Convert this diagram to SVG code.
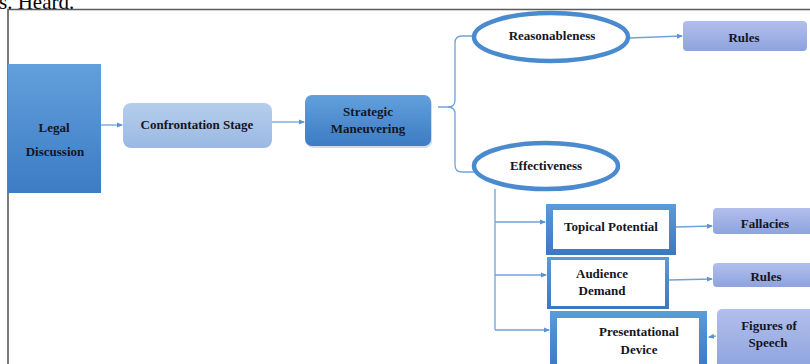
<svg xmlns="http://www.w3.org/2000/svg" width="810" height="364" viewBox="0 0 810 364">
<defs>
<linearGradient id="gDark" x1="0" y1="0" x2="0" y2="1"><stop offset="0" stop-color="#62a0dc"/><stop offset="1" stop-color="#3d7bc4"/></linearGradient>
<linearGradient id="gLight" x1="0" y1="0" x2="0" y2="1"><stop offset="0" stop-color="#b6cdec"/><stop offset="1" stop-color="#9ab9e3"/></linearGradient>
<linearGradient id="gPeri" x1="0" y1="0" x2="0" y2="1"><stop offset="0" stop-color="#b2bfec"/><stop offset="1" stop-color="#8ea3dd"/></linearGradient>
<linearGradient id="gBorder" x1="0" y1="0" x2="0" y2="1"><stop offset="0" stop-color="#5c9ad8"/><stop offset="1" stop-color="#3b78c2"/></linearGradient>
<marker id="ah" markerWidth="6" markerHeight="6" refX="5" refY="3" orient="auto" markerUnits="userSpaceOnUse"><path d="M0,0.5 L6,3 L0,5.5 z" fill="#5a93d2"/></marker>
<style>
text{font-family:"Liberation Serif","Times New Roman",serif;font-weight:bold;font-size:13px;fill:#15151f;text-anchor:middle;dominant-baseline:central}
.c{fill:none;stroke:#6fa2da;stroke-width:1.3}
.b{fill:none;stroke:#6fa2da;stroke-width:1.3}
.ell{fill:#fff;stroke:#4a8bd0;stroke-width:4.5}
</style>
</defs>
<rect width="810" height="364" fill="#fff"/>
<text x="-1" y="9" style="font-weight:normal;font-size:21px;text-anchor:start;dominant-baseline:auto;fill:#000">s. Heard.</text>
<path d="M8,364 V9.5 H810" fill="none" stroke="#5a5a5a" stroke-width="1.6"/>

<g id="connectors">
<line class="c" x1="101" y1="125" x2="122" y2="125" marker-end="url(#ah)"/>
<line class="c" x1="272" y1="122" x2="304" y2="122" marker-end="url(#ah)"/>
<path class="b" d="M438,107 H448 Q455,107 455,100 V43 Q455,36 462,36 H474"/>
<path class="b" d="M448,107 Q455,107 455,114 V165 Q455,172 462,172 H474"/>
<line class="c" x1="629" y1="38" x2="682" y2="36" marker-end="url(#ah)"/>
<path class="c" d="M495,189 V330"/>
<line class="c" x1="495" y1="222" x2="545" y2="222" marker-end="url(#ah)"/>
<line class="c" x1="495" y1="275" x2="546" y2="275" marker-end="url(#ah)"/>
<line class="c" x1="495" y1="330" x2="549" y2="330" marker-end="url(#ah)"/>
<line class="c" x1="676" y1="227" x2="712" y2="226" marker-end="url(#ah)"/>
<line class="c" x1="669" y1="280" x2="712" y2="279" marker-end="url(#ah)"/>
<line class="c" x1="716" y1="336" x2="709" y2="337" marker-end="url(#ah)"/>
</g>

<g id="legal-discussion">
<rect x="8" y="64" width="93" height="129" fill="url(#gDark)"/>
<text x="54" y="127">Legal</text>
<text x="55" y="151">Discussion</text>
</g>

<g id="confrontation-stage">
<rect x="123" y="103" width="149" height="45" rx="8" fill="url(#gLight)"/>
<text x="197" y="124">Confrontation Stage</text>
</g>

<g id="strategic-maneuvering">
<rect x="306" y="97" width="126" height="51" rx="7" fill="#9fb9d8" opacity="0.5"/>
<rect x="305" y="95" width="126" height="51" rx="7" fill="url(#gDark)"/>
<text x="368" y="111">Strategic</text>
<text x="368" y="128">Maneuvering</text>
</g>

<g id="reasonableness">
<ellipse class="ell" cx="551" cy="37" rx="77" ry="24"/>
<text x="552" y="35">Reasonableness</text>
</g>

<g id="rules-1">
<rect x="683" y="21" width="124" height="30" rx="4" fill="url(#gPeri)"/>
<text x="744" y="37">Rules</text>
</g>

<g id="effectiveness">
<ellipse class="ell" cx="546" cy="166" rx="72" ry="23"/>
<text x="546" y="165">Effectiveness</text>
</g>

<g id="topical-potential">
<rect x="546" y="204" width="130" height="51" fill="url(#gBorder)"/>
<rect x="553" y="210" width="116" height="39" fill="#fff"/>
<text x="611" y="226">Topical Potential</text>
</g>

<g id="audience-demand">
<rect x="547" y="257" width="122" height="52" fill="url(#gBorder)"/>
<rect x="551" y="260" width="114" height="46" fill="#fff"/>
<text x="602" y="273">Audience</text>
<text x="602" y="290">Demand</text>
</g>

<g id="presentational-device">
<rect x="550" y="311" width="157" height="60" fill="url(#gBorder)"/>
<rect x="557" y="318" width="142" height="50" fill="#fff"/>
<text x="639" y="331">Presentational</text>
<text x="639" y="349">Device</text>
</g>

<g id="fallacies">
<rect x="713" y="208" width="102" height="26" rx="4" fill="url(#gPeri)"/>
<text x="765" y="223">Fallacies</text>
</g>

<g id="rules-2">
<rect x="713" y="263" width="102" height="24" rx="4" fill="url(#gPeri)"/>
<text x="766" y="276">Rules</text>
</g>

<g id="figures-of-speech">
<rect x="717" y="309" width="98" height="60" rx="5" fill="url(#gPeri)"/>
<text x="769" y="325">Figures of</text>
<text x="768" y="342">Speech</text>
</g>
</svg>
